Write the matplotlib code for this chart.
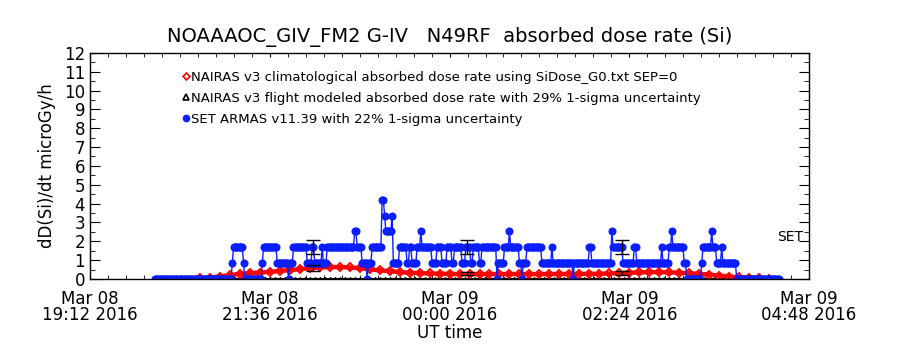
"""NAIRAS vs ARMAS absorbed dose rate plot for NOAAAOC G-IV flight."""
import matplotlib
matplotlib.use("Agg")
import matplotlib.pyplot as plt
import numpy as np
from matplotlib.lines import Line2D

plt.rcParams.update({"font.family": "DejaVu Sans", "font.size": 11})

# time axis: minutes after Mar 08 19:12 UT
tick_min = [0, 144, 288, 432, 576]
tick_labels = ["Mar 08\n19:12 2016", "Mar 08\n21:36 2016", "Mar 09\n00:00 2016",
               "Mar 09\n02:24 2016", "Mar 09\n04:48 2016"]

# NAIRAS climatological dose rate, every 8 min from 88 min
clim_t0, clim_dt = 88, 8
clim_rate = [0.04, 0.07, 0.13, 0.20, 0.27, 0.31, 0.34, 0.38, 0.42, 0.47,
             0.52, 0.57, 0.61, 0.63, 0.63, 0.61, 0.57, 0.52, 0.46, 0.41,
             0.37, 0.33, 0.31, 0.29, 0.28, 0.27, 0.26, 0.26, 0.26, 0.26,
             0.26, 0.26, 0.26, 0.26, 0.26, 0.26, 0.26, 0.27, 0.27, 0.27,
             0.28, 0.29, 0.31, 0.33, 0.35, 0.36, 0.36, 0.35, 0.33, 0.30,
             0.27, 0.23, 0.18, 0.13, 0.09, 0.06, 0.03, 0.01]

# NAIRAS flight modeled: zero baseline over flight, plus 3 sampled points
flight_t = np.arange(52, 553, 4)
flight_pts_t = [178.4, 301.6, 426.4]
flight_pts = [0.58, 0.28, 0.32]

# SET ARMAS: 1-min samples, step changes (minute, count level); 1 count = 0.84 uGy/h
set_unit = 0.84
set_change = [52, 114, 115, 123, 124, 138, 139, 150, 159, 160, 163, 174, 178, 180,
              186, 187, 190, 212, 214, 218, 222, 223, 226, 234, 236, 237, 242, 243,
              248, 254, 256, 258, 262, 265, 266, 274, 278, 282, 286, 290, 292, 298,
              301, 305, 307, 312, 314, 326, 327, 332, 336, 337, 344, 346, 347, 350,
              362, 370, 371, 387, 388, 400, 402, 418, 419, 427, 436, 438, 458, 459,
              464, 466, 467, 476, 478, 490, 491, 498, 499, 502, 506, 507, 518, 553]
set_level = [0, 1, 2, 1, 0, 1, 2, 1, 0, 1, 2, 1, 2, 1,
             2, 1, 2, 3, 2, 1, 0, 1, 2, 5, 4, 3, 4, 1,
             2, 1, 2, 1, 2, 3, 2, 1, 2, 1, 2, 1, 2, 1,
             2, 1, 2, 1, 2, 0, 1, 2, 3, 2, 1, 0, 1, 2,
             1, 2, 1, 0, 1, 2, 1, 3, 2, 1, 2, 1, 2, 1,
             2, 3, 2, 1, 0, 1, 2, 3, 2, 1, 2, 1, 0]
set_err_t = [178.4, 301.6, 426.4]
set_err_v = [1.68, 1.68, 1.68]

BLUE = "#0a1eff"
RED = "#ff0000"

fig = plt.figure(figsize=(9, 3.5), dpi=100)
ax = fig.add_axes([0.1, 0.203, 0.799, 0.646])

# flight modeled baseline
ax.plot(flight_t, np.zeros(len(flight_t)), color="black", lw=1.5, marker="^",
        ms=3, mfc="none", mew=0.8)

# climatological
clim_t = clim_t0 + clim_dt * np.arange(len(clim_rate))
ax.plot(clim_t, clim_rate, color=RED, lw=3.2, marker="D", ms=4, mfc="none", mew=1.4)

# SET ARMAS
durations = np.diff(set_change)
set_t = np.arange(set_change[0], set_change[-1])
set_v = np.repeat(set_level, durations) * set_unit
ax.plot(set_t, set_v, color=BLUE, lw=1.0, marker="o", ms=4.8, mec=BLUE, mfc=BLUE)

# uncertainty bars
ax.errorbar(set_err_t, set_err_v, yerr=0.22 * np.array(set_err_v), fmt="none",
            ecolor="black", elinewidth=1, capsize=5, capthick=1)
ax.errorbar(flight_pts_t, flight_pts, yerr=0.29 * np.array(flight_pts), fmt="none",
            ecolor="black", elinewidth=1, capsize=5, capthick=1)

ax.text(550, 2.2, "SET", fontsize=10, va="center")

ax.set_xlim(0, 576)
ax.set_ylim(0, 12)
ax.set_xticks(tick_min)
ax.set_xticklabels(tick_labels, fontsize=12, linespacing=0.85)
ax.set_xticks(np.arange(0, 577, 14.4), minor=True)
ax.set_yticks(range(0, 13))
ax.set_yticks(np.arange(0, 12, 0.5), minor=True)
ax.tick_params(axis="x", which="both", direction="in", length=3, top=True, pad=8)
ax.tick_params(axis="y", which="major", direction="in", length=7, right=True, labelsize=12)
ax.tick_params(axis="y", which="minor", direction="in", length=3.5, right=True)
for s in ax.spines.values():
    s.set_linewidth(1)

ax.set_xlabel("UT time", fontsize=12, labelpad=0)
ax.set_ylabel("dD(Si)/dt microGy/h", fontsize=12, labelpad=6)
ax.set_title("NOAAAOC_GIV_FM2 G-IV   N49RF  absorbed dose rate (Si)", fontsize=14, pad=8)

handles = [
    Line2D([], [], ls="none", marker="D", ms=3.5, mfc="none", mec=RED, mew=1.2),
    Line2D([], [], ls="none", marker="^", ms=4, mfc="none", mec="black", mew=1.2),
    Line2D([], [], ls="none", marker="o", ms=4.5, mfc=BLUE, mec=BLUE),
]
labels = [
    "NAIRAS v3 climatological absorbed dose rate using SiDose_G0.txt SEP=0",
    "NAIRAS v3 flight modeled absorbed dose rate with 29% 1-sigma uncertainty",
    "SET ARMAS v11.39 with 22% 1-sigma uncertainty",
]
ax.legend(handles, labels, loc="upper left", bbox_to_anchor=(0.12, 0.95),
          frameon=False, fontsize=9.5, handlelength=0.4, handletextpad=0.2,
          labelspacing=0.62, borderpad=0)

fig.savefig("out.png")
